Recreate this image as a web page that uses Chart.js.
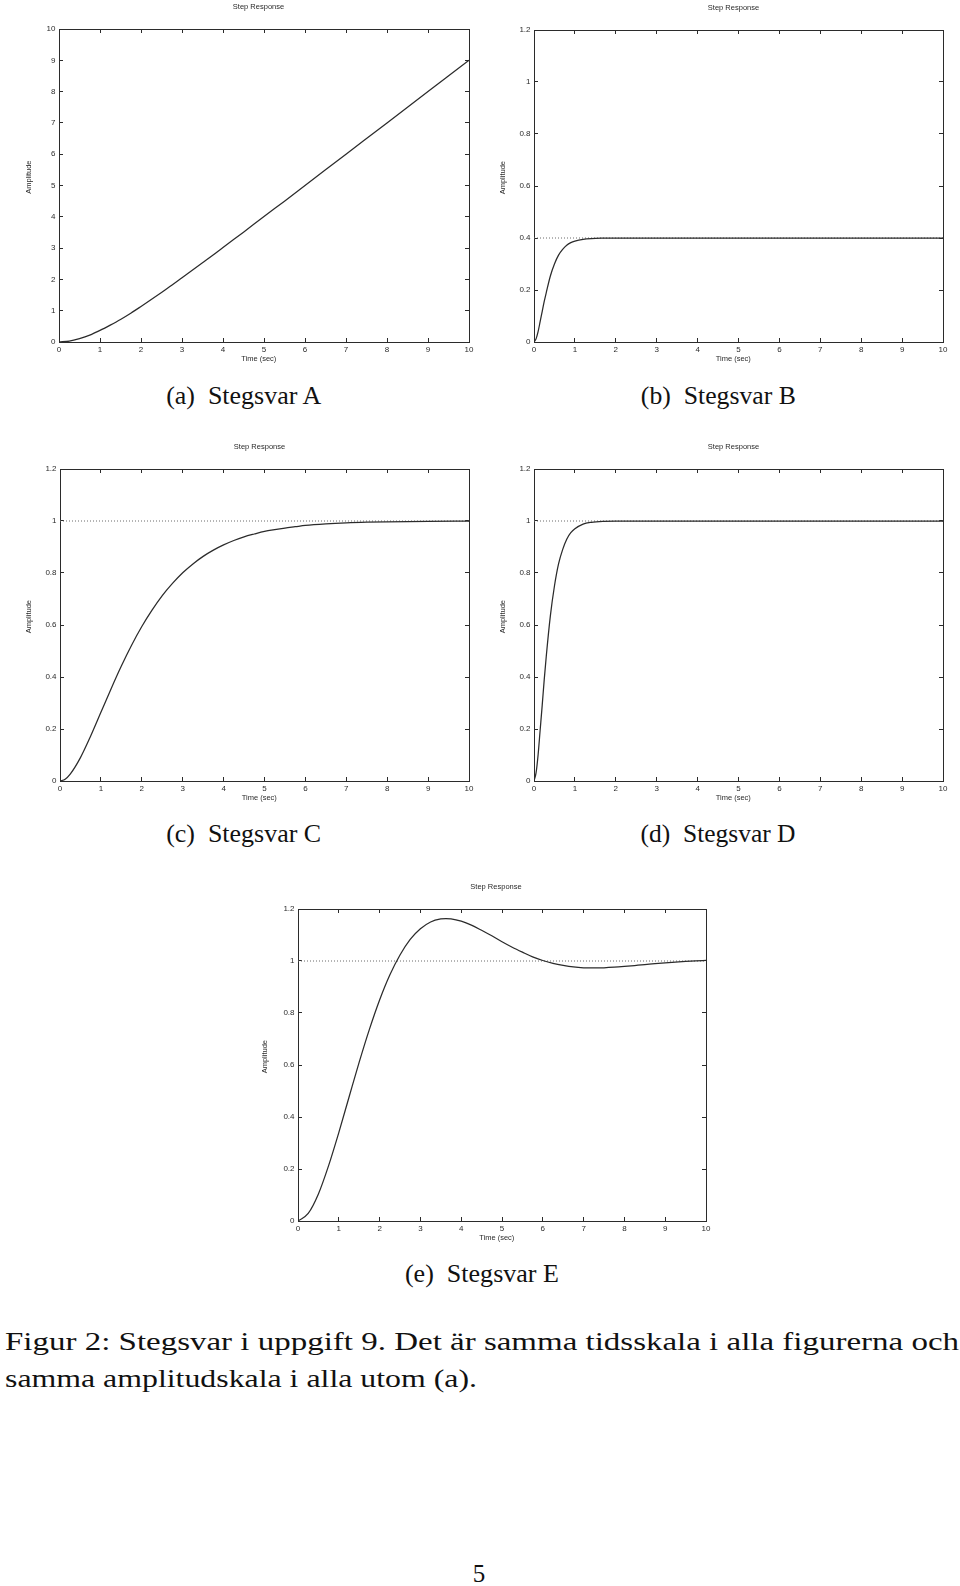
<!DOCTYPE html>
<html>
<head>
<meta charset="utf-8">
<script src="https://cdn.jsdelivr.net/npm/chart.js@4.4.1/dist/chart.umd.min.js"></script>
<style>
html,body{margin:0;padding:0;background:#fff;overflow:hidden;}
body{width:960px;height:1586px;position:relative;}
canvas{position:absolute;}
.t{position:absolute;font-family:"Liberation Serif","Times New Roman",serif;color:#111;white-space:pre;line-height:1;}
</style>
</head>
<body>
<script>
// ---------------- data ----------------
const timeA = [0,0.25,0.5,0.75,1,1.25,1.5,1.75,2,2.25,2.5,2.75,3,3.25,3.5,3.75,4,4.5,5,5.5,6,7,8,9,10];
const ampA  = [0,0.03,0.11,0.22,0.37,0.54,0.72,0.92,1.135,1.355,1.58,1.81,2.05,2.29,2.53,2.77,3.02,3.51,4.01,4.5,5.0,6.0,7.0,8.0,9.0];

const timeB = [0,0.05,0.1,0.15,0.2,0.25,0.3,0.4,0.5,0.6,0.7,0.8,0.9,1.0,1.2,1.4,1.7,2,10];
const ampB  = [0,0.012,0.04,0.078,0.117,0.156,0.19,0.254,0.30,0.334,0.356,0.372,0.382,0.388,0.395,0.398,0.3995,0.4,0.4];
const finalB = 0.4;

const timeC = [0,0.125,0.25,0.5,0.75,1,1.25,1.5,1.75,2,2.25,2.5,2.75,3,3.25,3.5,3.75,4,4.25,4.5,4.75,5,5.25,5.5,5.75,6,6.5,7,7.5,8,9,10];
const ampC  = [0,0.007,0.0265,0.09,0.173,0.264,0.355,0.442,0.522,0.594,0.657,0.713,0.76,0.801,0.835,0.864,0.888,0.908,0.925,0.939,0.95,0.96,0.967,0.973,0.978,0.983,0.989,0.993,0.9955,0.997,0.999,1.0];
const finalC = 1;

const timeD = [0,0.05,0.1,0.15,0.2,0.25,0.3,0.4,0.5,0.6,0.7,0.8,0.9,1.0,1.2,1.4,1.7,2,10];
const ampD  = [0,0.031,0.10,0.195,0.29,0.39,0.48,0.635,0.75,0.835,0.89,0.93,0.955,0.97,0.988,0.995,0.999,1.0,1.0];
const finalD = 1;

const timeE = [0,0.25,0.5,0.75,1,1.25,1.5,1.75,2,2.25,2.5,2.75,3,3.25,3.5,3.625,3.75,4,4.25,4.5,4.75,5,5.25,5.5,5.75,6,6.25,6.5,6.75,7,7.25,7.5,7.75,8,8.25,8.5,8.75,9,9.25,9.5,9.75,10];
const ampE  = [0,0.029,0.104,0.213,0.34,0.476,0.611,0.737,0.85,0.946,1.023,1.083,1.124,1.15,1.1617,1.163,1.1619,1.153,1.138,1.118,1.097,1.074,1.053,1.034,1.016,1.002,0.991,0.983,0.977,0.974,0.9734,0.974,0.976,0.979,0.9825,0.986,0.9896,0.993,0.996,0.9986,1.0006,1.002];
const finalE = 1;

const xTickValues = [0,1,2,3,4,5,6,7,8,9,10];
const xTickLabels = ['0','1','2','3','4','5','6','7','8','9','10'];
const yTickValuesA = [0,1,2,3,4,5,6,7,8,9,10];
const yTickLabelsA = ['0','1','2','3','4','5','6','7','8','9','10'];
const yTickValues = [0,0.2,0.4,0.6,0.8,1,1.2];
const yTickLabels = ['0','0.2','0.4','0.6','0.8','1','1.2'];

const chartTitle = 'Step Response';
const xTitle = 'Time (sec)';
const yTitle = 'Amplitude';
const subCaptions = ['(a)\u2002Stegsvar A','(b)\u2002Stegsvar B','(c)\u2002Stegsvar C','(d)\u2002Stegsvar D','(e)\u2002Stegsvar E'];
const captionLine1 = 'Figur 2: Stegsvar i uppgift 9. Det är samma tidsskala i alla figurerna och';
const captionLine2 = 'samma amplitudskala i alla utom (a).';
const pageNumber = '5';

// ---------------- layout / style ----------------
const FONT = '"Liberation Sans", Arial, Helvetica, sans-serif';
const FS = 7.5;
const TICKFS = 8;
const INK = '#2b2b2b';
const TICKLEN = -4;

const panels = [
  {t:timeA, v:ampA, fin:null,   yv:yTickValuesA, yl:yTickLabelsA, ymax:10,
   box:{l:59,r:469,t:29,b:342},  titleX:258.3, titleY:6.5,   ampX:29.3,  timeY:359},
  {t:timeB, v:ampB, fin:finalB, yv:yTickValues, yl:yTickLabels, ymax:1.2,
   box:{l:534,r:943,t:30,b:342}, titleX:733.5, titleY:7.7,   ampX:502.7, timeY:359},
  {t:timeC, v:ampC, fin:finalC, yv:yTickValues, yl:yTickLabels, ymax:1.2,
   box:{l:60,r:469,t:469,b:781}, titleX:259.3, titleY:447.3, ampX:29.3,  timeY:798.3},
  {t:timeD, v:ampD, fin:finalD, yv:yTickValues, yl:yTickLabels, ymax:1.2,
   box:{l:534,r:943,t:469,b:781},titleX:733.3, titleY:447.3, ampX:502.7, timeY:798.3},
  {t:timeE, v:ampE, fin:finalE, yv:yTickValues, yl:yTickLabels, ymax:1.2,
   box:{l:298,r:706,t:909,b:1221},titleX:496,  titleY:887.3, ampX:265,   timeY:1238.3}
];

function build(p){
  const lh = FS*1.2;
  const tlh = TICKFS*1.2;
  const Lc = Math.round(p.ampX - 10);
  const Tc = Math.round(p.titleY - 6);
  const W = Math.round(2*(p.titleX - Lc));
  const H = Math.round(p.timeY + 8 - Tc);
  const yW = p.box.l - Lc;
  const y2W = Lc + W - p.box.r;
  const titlePadTop = p.titleY - Tc - lh/2;
  const titleH = lh + titlePadTop;
  const x2H = p.box.t - Tc - titleH;
  const xH = Tc + H - p.box.b;
  const ampPad = p.ampX - Lc - lh/2;
  const timePad = Tc + H - p.timeY - lh/2;

  const cv = document.createElement('canvas');
  cv.width = W; cv.height = H;
  cv.style.left = Lc+'px'; cv.style.top = Tc+'px';
  cv.style.width = W+'px'; cv.style.height = H+'px';
  document.body.appendChild(cv);

  const grid = {drawOnChartArea:false, drawTicks:true, tickLength:TICKLEN, color:INK, tickColor:INK, lineWidth:1};
  const border = {display:true, color:INK, width:1};
  const font = {family:FONT, size:FS, weight:'normal'};
  const tfont = {family:FONT, size:TICKFS, weight:'normal'};

  const datasets = [{
    data: p.t.map((t,i)=>({x:t, y:p.v[i]})),
    borderColor: INK, borderWidth: 1.25, pointRadius: 0, fill:false,
    cubicInterpolationMode: 'monotone'
  }];
  if (p.fin !== null) {
    datasets.push({
      data: [{x:xTickValues[0], y:p.fin},{x:xTickValues[xTickValues.length-1], y:p.fin}],
      borderColor: '#6a6a6a', borderWidth: 1, borderDash:[1,2], pointRadius:0, fill:false
    });
  }

  new Chart(cv, {
    type:'line',
    data:{datasets},
    options:{
      responsive:false, animation:false, devicePixelRatio:1,
      layout:{padding:0},
      plugins:{
        legend:{display:false}, tooltip:{enabled:false},
        title:{display:true, text:chartTitle, color:INK, font:font, padding:{top:titlePadTop, bottom:0}}
      },
      scales:{
        x:{type:'linear', position:'bottom', min:0, max:10, grid, border,
           afterBuildTicks:s=>{s.ticks = xTickValues.map(v=>({value:v}));},
           afterFit:s=>{s.height = xH;},
           ticks:{color:INK, font:tfont, padding:7.6 + 4 - tlh/2 + 0.5, autoSkip:false, maxRotation:0, minRotation:0,
                  callback:(v,i)=>xTickLabels[i]},
           title:{display:true, text:xTitle+'     ', color:INK, font, padding:{top:0,bottom:timePad}}},
        x2:{type:'linear', position:'top', min:0, max:10, grid, border,
           afterBuildTicks:s=>{s.ticks = xTickValues.map(v=>({value:v}));},
           afterFit:s=>{s.height = x2H;},
           ticks:{display:false}},
        y:{type:'linear', position:'left', min:0, max:p.ymax, grid, border,
           afterBuildTicks:s=>{s.ticks = p.yv.map(v=>({value:v}));},
           afterFit:s=>{s.width = yW;},
           ticks:{color:INK, font:tfont, padding:7.5, autoSkip:false,
                  callback:(v,i)=>p.yl[i]},
           title:{display:true, text:'        '+yTitle, color:INK, font, padding:{top:ampPad,bottom:0}}},
        y2:{type:'linear', position:'right', min:0, max:p.ymax, grid, border,
           afterBuildTicks:s=>{s.ticks = p.yv.map(v=>({value:v}));},
           afterFit:s=>{s.width = y2W;},
           ticks:{display:false}}
      }
    }
  });
}
panels.forEach(build);

// ---------------- captions ----------------
const SERIF = 25;
function place(text, o){
  const el = document.createElement('div');
  el.className = 't';
  el.textContent = text;
  el.style.fontSize = SERIF+'px';
  document.body.appendChild(el);
  const w = el.getBoundingClientRect().width;
  const k = o.width ? o.width / w : 1;
  el.style.top = (o.capY - 0.5065*SERIF) + 'px';
  if (o.cx !== undefined) {
    el.style.left = (o.cx - w/2) + 'px';
    el.style.transformOrigin = '50% 50%';
  } else {
    el.style.left = o.left + 'px';
    el.style.transformOrigin = '0 50%';
  }
  el.style.transform = 'scaleX(' + k + ')';
}
place(subCaptions[0], {cx:244,   capY:395.3, width:155});
place(subCaptions[1], {cx:718.5, capY:395.3, width:155});
place(subCaptions[2], {cx:244,   capY:834,   width:155});
place(subCaptions[3], {cx:718.5, capY:834,   width:155});
place(subCaptions[4], {cx:482.3, capY:1274,  width:154});
place(captionLine1, {left:5, capY:1342, width:954});
place(captionLine2, {left:5, capY:1379, width:472});
place(pageNumber, {cx:479, capY:1574});
</script>
</body>
</html>
